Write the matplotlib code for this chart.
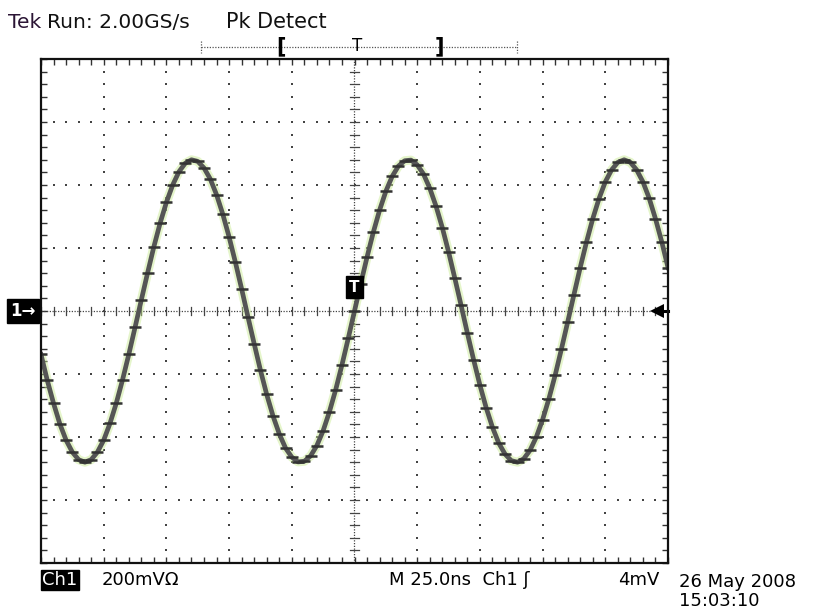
import numpy as np
import matplotlib
matplotlib.use('Agg')
from matplotlib import pyplot as plt

# -------------------------------------------------------------------------------
# Data - samples (time in ns, voltage in mV)
# -------------------------------------------------------------------------------
ns_per_div = 25.0
mv_per_div = 200.0
sample_step_ns = 2.5

volts_mv = [
    -138, -220, -293, -358, -410, -448, -472, -480, -472, -448,
    -410, -357, -293, -219, -138, -52, 35, 121, 204, 279,
    345, 400, 442, 469, 480, 475, 454, 419, 369, 307,
    235, 155, 70, -18, -104, -188, -265, -333, -390, -435,
    -464, -479, -477, -460, -427, -380, -320, -250, -171, -87,
    0,
    87, 171, 250, 320, 380, 427, 460, 477, 479, 464,
    435, 390, 333, 265, 188, 104, 18, -70, -155, -235,
    -307, -369, -419, -454, -475, -480, -469, -442, -400, -345,
    -279, -204, -121, -35, 52, 138, 219, 293, 357, 410,
    448, 472, 480, 472, 448, 410, 358, 293, 220, 138,
]
times_ns = np.arange(len(volts_mv)) * sample_step_ns - 125.0

header_left = 'Run: 2.00GS/s'
header_mode = 'Pk Detect'
footer_scale = '200mV\u03a9'
footer_time = 'M 25.0ns  Ch1 \u0283'
footer_level = '4mV'
footer_date = '26 May 2008'
footer_clock = '15:03:10'

W, H = 813, 612


def px(x, y):
    return x / W, 1 - y / H


# -------------------------------------------------------------------------------
# Figure and screen graticule
# -------------------------------------------------------------------------------
fig = plt.figure(figsize=(W / 100, H / 100), dpi=100)
fig.patch.set_facecolor('white')
ax = fig.add_axes([41 / W, 49 / H, 627 / W, 504 / H])
ax.set_xlim(-5 * ns_per_div, 5 * ns_per_div)
ax.set_ylim(-4 * mv_per_div, 4 * mv_per_div)
for s in ax.spines.values():
    s.set_linewidth(1.6)
    s.set_color('#111111')

minor_x = np.arange(-5, 5.001, 0.2) * ns_per_div
minor_y = np.arange(-4, 4.001, 0.2) * mv_per_div
ax.set_xticks(minor_x, minor=True)
ax.set_yticks(minor_y, minor=True)
ax.set_xticks([])
ax.set_yticks([])
ax.tick_params(which='minor', direction='in', length=4, width=1, color='#333333',
               top=True, right=True, labelbottom=False, labelleft=False)

dot_kw = dict(ls='none', marker='s', ms=1.6, mew=0, color='#444444')
for gx in range(-4, 5):
    if gx == 0:
        continue
    ax.plot(np.full_like(minor_y, gx * ns_per_div), minor_y, **dot_kw)
for gy in range(-3, 4):
    if gy == 0:
        continue
    ax.plot(minor_x, np.full_like(minor_x, gy * mv_per_div), **dot_kw)

# centre axes: dense dots with small cross ticks
ax.axhline(0, color='#444444', lw=0.9, ls=(0, (1, 1.2)))
ax.axvline(0, color='#444444', lw=0.9, ls=(0, (1, 1.2)))
tick_h = 0.07 * mv_per_div
tick_w = 0.07 * ns_per_div
for x in minor_x:
    ax.plot([x, x], [-tick_h, tick_h], color='#444444', lw=0.9)
for y in minor_y:
    ax.plot([-tick_w, tick_w], [y, y], color='#444444', lw=0.9)

# -------------------------------------------------------------------------------
# Waveform (peak detect band)
# -------------------------------------------------------------------------------
ax.plot(times_ns, volts_mv, color='#c6ea8c', lw=6.5, alpha=0.45, solid_capstyle='butt')
ax.plot(times_ns, volts_mv, color='#555555', lw=3.4)
ax.plot(times_ns, volts_mv, ls='none', marker='_', ms=8, mew=1.8, color='#333333')

# trigger and level markers
ax.text(0, 0.38 * mv_per_div, 'T', ha='center', va='center', color='white',
        fontsize=11, fontweight='bold',
        bbox=dict(boxstyle='square,pad=0.22', fc='black', ec='black'))
ax.plot([4.8 * ns_per_div, 5 * ns_per_div], [0, 0], color='black', lw=2.2, clip_on=False)
ax.plot(4.83 * ns_per_div, 0, marker='<', ms=10, color='black', mew=0, clip_on=False)

# -------------------------------------------------------------------------------
# Screen texts
# -------------------------------------------------------------------------------
fig.text(*px(8, 22), 'Tek', color='#2b1535', fontsize=14.5, va='center', ha='left')
fig.text(*px(47, 22), header_left, color='#111111', fontsize=14.5, va='center', ha='left')
fig.text(*px(226, 22), header_mode, color='#111111', fontsize=15, va='center', ha='left')

# record window bracket
fig.lines.append(plt.Line2D([201 / W, 517 / W], [1 - 47 / H] * 2, transform=fig.transFigure,
                            color='#555555', lw=0.9, ls=(0, (1, 1.2))))
for xe in (201, 517):
    fig.lines.append(plt.Line2D([xe / W] * 2, [1 - 41 / H, 1 - 53 / H], transform=fig.transFigure,
                                color='#555555', lw=0.9, ls=(0, (1, 1.2))))
fig.text(*px(281, 46), '[', fontsize=15, fontweight='bold', va='center', ha='center')
fig.text(*px(357, 46), 'T', fontsize=12, va='center', ha='center')
fig.text(*px(439, 46), ']', fontsize=15, fontweight='bold', va='center', ha='center')

fig.text(*px(23, 311), '1\u2192', color='white', fontsize=12, fontweight='bold',
         va='center', ha='center',
         bbox=dict(boxstyle='square,pad=0.2', fc='black', ec='black'))

narrow = ['Liberation Sans Narrow', 'DejaVu Sans']
fig.text(*px(60, 580), 'Ch1', color='white', fontsize=13, family=narrow,
         va='center', ha='center',
         bbox=dict(boxstyle='square,pad=0.08', fc='black', ec='black'))
fig.text(*px(102, 580), footer_scale, fontsize=13, family=narrow, va='center', ha='left')
fig.text(*px(389, 580), footer_time, fontsize=13, family=narrow, va='center', ha='left')
fig.text(*px(618, 580), footer_level, fontsize=13, family=narrow, va='center', ha='left')
fig.text(*px(679, 582), footer_date, fontsize=13, family=narrow, va='center', ha='left')
fig.text(*px(679, 601), footer_clock, fontsize=13, family=narrow, va='center', ha='left')

fig.savefig('out.png', dpi=100, facecolor='white')
